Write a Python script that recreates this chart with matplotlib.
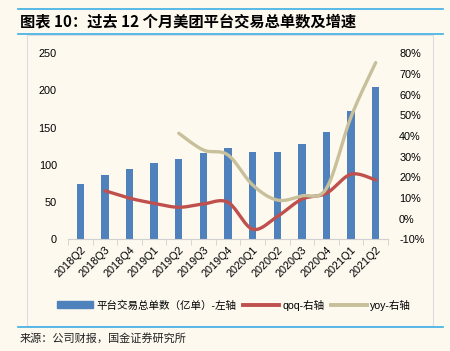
import numpy as np
import matplotlib.pyplot as plt
from matplotlib.patches import Rectangle
from matplotlib.lines import Line2D

plt.rcParams['font.family'] = ['Liberation Sans', 'Noto Sans CJK SC', 'DejaVu Sans']

# 数据
quarters = ["2018Q2", "2018Q3", "2018Q4", "2019Q1", "2019Q2", "2019Q3", "2019Q4",
            "2020Q1", "2020Q2", "2020Q3", "2020Q4", "2021Q1", "2021Q2"]
orders = [75, 87, 95, 102, 108, 116, 123, 118, 118, 128, 144, 173, 205]
qoq = [None, 13.5, 9.9, 7.4, 5.5, 7.1, 7.9, -5.1, 1.0, 9.4, 12.3, 21.5, 18.7]
yoy = [None, None, None, None, 41.3, 33.2, 30.8, 16.3, 9.0, 11.0, 14.7, 49.3, 75.5]

bg = "#FDF9EF"
blue = "#4F81BD"
red = "#C0504D"
tan = "#C8BF9B"


def smooth(xs, ys, n=20):
    # Excel 风格的平滑线（Catmull-Rom）
    p = np.column_stack([xs, ys]).astype(float)
    p = np.vstack([p[0], p, p[-1]])
    out = []
    for i in range(1, len(p) - 2):
        p0, p1, p2, p3 = p[i - 1], p[i], p[i + 1], p[i + 2]
        t = np.linspace(0, 1, n)[:, None]
        c = 0.5 * ((2 * p1) + (-p0 + p2) * t + (2 * p0 - 5 * p1 + 4 * p2 - p3) * t ** 2
                   + (-p0 + 3 * p1 - 3 * p2 + p3) * t ** 3)
        out.append(c)
    out = np.vstack(out)
    return out[:, 0], out[:, 1]


fig = plt.figure(figsize=(4.5, 3.51), dpi=100, facecolor=bg)

# 标题与边框
fig.add_artist(Line2D([0.04, 0.985], [1 - 9 / 351, 1 - 9 / 351], color="#3CAEE6", lw=1.2))
fig.add_artist(Line2D([0.04, 0.985], [1 - 34 / 351, 1 - 34 / 351], color="#3CAEE6", lw=1.2))
fig.add_artist(Line2D([0.04, 0.985], [1 - 326.5 / 351, 1 - 326.5 / 351], color="#3CAEE6", lw=1.2))
fig.add_artist(Rectangle((27 / 450, 1 - 326 / 351), (433 - 27) / 450, (326 - 35) / 351,
                         fill=False, ec="#DDDDDD", lw=0.8))
fig.text(20 / 450, 1 - 22 / 351, "图表 10：过去 12 个月美团平台交易总单数及增速",
         fontsize=11, fontweight="bold", style="italic", va="center", ha="left",
         family=['Noto Sans CJK SC', 'DejaVu Sans'])
fig.text(20 / 450, 1 - 338 / 351, "来源：公司财报，国金证券研究所", fontsize=8,
         va="center", ha="left", family=['Noto Sans CJK SC', 'DejaVu Sans'], color="#222222")

ax = fig.add_axes([68 / 450, 1 - 239.3 / 351, 320 / 450, 186 / 351])
ax.set_facecolor(bg)
x = np.arange(len(quarters))
ax.bar(x, orders, width=0.3, color=blue, zorder=2)
ax.set_xlim(-0.5, len(quarters) - 0.5)
ax.set_ylim(0, 250)
ax.set_yticks(range(0, 251, 50))
ax.set_xticks(x)
ax.set_xticklabels(quarters, rotation=45, ha="right", rotation_mode="anchor", fontsize=7.8)
ax.tick_params(axis="y", length=0, labelsize=7.8, pad=8)
ax.tick_params(axis="x", length=0, pad=4)
ax.set_xticks(np.arange(-0.5, len(quarters)), minor=True)
ax.tick_params(axis="x", which="minor", length=4, color="#D0D0D0")
for s in ["top", "left", "right"]:
    ax.spines[s].set_visible(False)
ax.spines["bottom"].set_color("#D0D0D0")

ax2 = ax.twinx()
ax2.set_ylim(-10, 80)
ax2.set_yticks(range(-10, 81, 10))
ax2.set_yticklabels([f"{v}%" for v in range(-10, 81, 10)])
ax2.tick_params(axis="y", length=0, labelsize=7.8, pad=8)
for s in ["top", "left", "right", "bottom"]:
    ax2.spines[s].set_visible(False)

qx = [i for i, v in enumerate(qoq) if v is not None]
qy = [v for v in qoq if v is not None]
sx, sy = smooth(qx, qy)
ax2.plot(sx, sy, color=red, lw=2.4, solid_capstyle="round", zorder=3)

yx = [i for i, v in enumerate(yoy) if v is not None]
yy = [v for v in yoy if v is not None]
sx, sy = smooth(yx, yy)
ax2.plot(sx, sy, color=tan, lw=2.4, solid_capstyle="round", zorder=3)

# 图例
handles = [Rectangle((0, 0), 1, 1, color=blue),
           Line2D([], [], color=red, lw=2.8),
           Line2D([], [], color=tan, lw=2.8)]
labels = ["平台交易总单数（亿单）-左轴", "qoq-右轴", "yoy-右轴"]
fig.legend(handles, labels, loc="center", bbox_to_anchor=(0.52, 1 - 305 / 351), ncol=3,
           frameon=False, handlelength=3.4, handleheight=0.6,
           columnspacing=0.6, handletextpad=0.35,
           prop={"family": ['Liberation Sans', 'Noto Sans CJK SC'], "size": 7.6})

fig.savefig("out.png", dpi=100, facecolor=bg)
